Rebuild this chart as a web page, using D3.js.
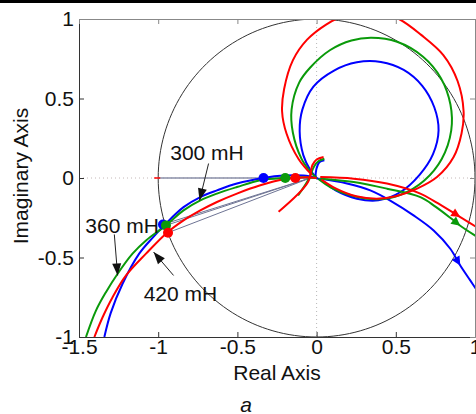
<!DOCTYPE html>
<html>
<head>
<meta charset="utf-8">
<script src="https://cdn.jsdelivr.net/npm/d3@7/dist/d3.min.js"></script>
<style>
    html, body { margin: 0; padding: 0; background: #fff; }
    svg { display: block; font-family: "Liberation Sans", Arial, sans-serif; }
</style>
</head>
<body>
<div id="chart"></div>
<script>
// axis ticks
const xTicks = [-1.5, -1, -0.5, 0, 0.5, 1];
const yTicks = [-1, -0.5, 0, 0.5, 1];
const xTickLabels = ["-1.5", "-1", "-0.5", "0", "0.5", "1"];
const yTickLabels = ["-1", "-0.5", "0", "0.5", "1"];

// series names
const seriesNames = ["300 mH", "360 mH", "420 mH"];

// left branch (from bottom left up to the origin)
const blueLeft = [[-1.34,-1.0],[-1.30,-0.85],[-1.225,-0.665],[-1.12,-0.476],[-1.03,-0.37],[-0.955,-0.29],[-0.84,-0.183],[-0.734,-0.12],[-0.629,-0.078],[-0.503,-0.035],[-0.335,0.0],[-0.208,0.015],[-0.082,0.015],[0,0]];
const greenLeft = [[-1.456,-1.0],[-1.393,-0.834],[-1.33,-0.718],[-1.256,-0.602],[-1.162,-0.476],[-1.077,-0.393],[-0.951,-0.298],[-0.84,-0.204],[-0.734,-0.141],[-0.629,-0.098],[-0.503,-0.057],[-0.355,-0.014],[-0.198,0.0],[-0.084,0.004],[0,0]];
const redLeft = [[-1.403,-1.0],[-1.351,-0.876],[-1.288,-0.75],[-1.203,-0.613],[-1.077,-0.476],[-0.951,-0.35],[-0.84,-0.267],[-0.734,-0.204],[-0.629,-0.151],[-0.503,-0.098],[-0.355,-0.046],[-0.208,-0.008],[-0.134,0.0],[-0.061,0.004],[0,0]];

// loops above the real axis
const blueLoop = [[0,0],[-0.04,0.05],[-0.084,0.144],[-0.107,0.295],[-0.09,0.43],[-0.02,0.575],[0.11,0.676],[0.254,0.728],[0.406,0.73],[0.55,0.68],[0.667,0.58],[0.743,0.445],[0.77,0.3],[0.735,0.15],[0.65,0.02],[0.53,-0.088],[0.39,-0.14],[0.254,-0.13],[0.12,-0.078],[0.04,-0.02],[0,0]];
const greenLoop = [[0,0],[-0.04,0.04],[-0.095,0.12],[-0.15,0.286],[-0.158,0.43],[-0.11,0.6],[-0.04,0.695],[0.086,0.805],[0.22,0.865],[0.345,0.882],[0.508,0.857],[0.672,0.763],[0.785,0.628],[0.845,0.462],[0.85,0.3],[0.79,0.12],[0.68,-0.015],[0.53,-0.105],[0.38,-0.134],[0.22,-0.11],[0.09,-0.06],[0.01,-0.005]];
const redLoop = [[-0.03,0.02],[-0.114,0.12],[-0.19,0.28],[-0.218,0.42],[-0.205,0.56],[-0.15,0.74],[-0.06,0.87],[0.06,0.965],[0.17,1.02],[0.34,1.06],[0.52,1.0],[0.66,0.9],[0.8,0.773],[0.89,0.61],[0.928,0.42],[0.915,0.28],[0.865,0.132],[0.76,0.006],[0.634,-0.067],[0.5,-0.115],[0.38,-0.13],[0.25,-0.115],[0.12,-0.065],[0.03,-0.01]];

// right branch (with direction arrow)
const blueRight = [[0.023,-0.004],[0.192,-0.035],[0.339,-0.078],[0.47,-0.145],[0.612,-0.235],[0.739,-0.33],[0.844,-0.445],[0.907,-0.55],[0.97,-0.644],[1.013,-0.708]];
const greenRight = [[0.023,-0.004],[0.234,-0.025],[0.444,-0.067],[0.655,-0.12],[0.75,-0.18],[0.85,-0.255],[0.907,-0.3],[1.013,-0.37]];
const redRight = [[0.023,0.006],[0.234,-0.004],[0.444,-0.035],[0.655,-0.098],[0.75,-0.15],[0.85,-0.21],[0.907,-0.246],[1.013,-0.31]];

// short pieces close to the origin
const blueHook = [[-0.008,0.0],[0.0,0.061],[0.017,0.099],[0.049,0.112]];
const greenHook = [[-0.117,-0.109],[-0.054,-0.014],[-0.015,0.074],[0.011,0.105],[0.049,0.121]];
const redHook = [[-0.24,-0.212],[-0.054,-0.025],[-0.027,0.08],[0.0,0.116],[0.044,0.132]];

// marked points
const axisDots = [[-0.335,0.0],[-0.198,0.0],[-0.134,0.0]];
const lowerDots = [[-0.97,-0.292],[-0.951,-0.298],[-0.938,-0.344]];
const arrowX = 0.907;

// annotation text anchors and arrows (text x, text y, arrow from, arrow to)
const noteText = [[-0.924,0.112],[-1.46,-0.344],[-1.092,-0.771]];
const noteFrom = [[-0.682,0.091],[-1.277,-0.355],[-0.903,-0.613]];
const noteTo = [[-0.739,-0.141],[-1.256,-0.613],[-1.029,-0.466]];

const colors = ["#0000ff", "#0a9a0a", "#ff0000"];

const W = 476, H = 414;
const margin = { left: 79, right: 1, top: 19, bottom: 77 };
const font = "\"Liberation Sans\", Arial, sans-serif";

const svg = d3.select("#chart").append("svg")
    .attr("width", W)
    .attr("height", H);

// black band at the very top
svg.append("rect")
    .attr("x", 0).attr("y", 0)
    .attr("width", W).attr("height", 3)
    .attr("fill", "#000");

const x = d3.scaleLinear().domain([-1.5, 1]).range([margin.left, W - margin.right]);
const y = d3.scaleLinear().domain([-1, 1]).range([H - margin.bottom, margin.top]);

svg.append("clipPath").attr("id", "plotclip")
    .append("rect")
    .attr("x", x(-1.5)).attr("y", y(1))
    .attr("width", x(1) - x(-1.5)).attr("height", y(-1) - y(1));

// dotted zero grid lines
svg.append("line")
    .attr("x1", x(0)).attr("x2", x(0))
    .attr("y1", y(1)).attr("y2", y(-1))
    .attr("stroke", "#b8b8b8").attr("stroke-dasharray", "1,3");
svg.append("line")
    .attr("x1", x(-1.5)).attr("x2", x(1))
    .attr("y1", y(0)).attr("y2", y(0))
    .attr("stroke", "#c4b8b8").attr("stroke-dasharray", "1,3");

const plot = svg.append("g").attr("clip-path", "url(#plotclip)");

// unit circle
const circlePts = d3.range(0, 361, 2).map(a => [Math.cos(a * Math.PI / 180), Math.sin(a * Math.PI / 180)]);
const line = d3.line().x(d => x(d[0])).y(d => y(d[1]));
plot.append("path")
    .attr("d", line(circlePts))
    .attr("fill", "none")
    .attr("stroke", "#333")
    .attr("stroke-width", 1);

// vectors to the origin
plot.append("line")
    .attr("x1", x(-1)).attr("y1", y(0))
    .attr("x2", x(0)).attr("y2", y(0))
    .attr("stroke", "#8a8fa8").attr("stroke-width", 1.5);
lowerDots.forEach(d => {
    plot.append("line")
        .attr("x1", x(d[0])).attr("y1", y(d[1]))
        .attr("x2", x(-0.04)).attr("y2", y(0.0))
        .attr("stroke", "#6e7494").attr("stroke-width", 1);
});
plot.append("line")
    .attr("x1", x(-1) - 4).attr("x2", x(-1) + 2)
    .attr("y1", y(0)).attr("y2", y(0))
    .attr("stroke", "#ff0000").attr("stroke-width", 1.5);

// curves
const smooth = d3.line().x(d => x(d[0])).y(d => y(d[1])).curve(d3.curveCatmullRom.alpha(0.5));
const parts = [
    [blueLeft, blueLoop, blueRight, blueHook],
    [greenLeft, greenLoop, greenRight, greenHook],
    [redLeft, redLoop, redRight, redHook]
];

parts.forEach((p, i) => {
    p.forEach(pts => {
        plot.append("path")
            .attr("d", smooth(pts))
            .attr("fill", "none")
            .attr("stroke", colors[i])
            .attr("stroke-width", 2)
            .attr("stroke-linejoin", "round");
    });

    // direction arrow on the right branch
    const right = p[2];
    const k = right.findIndex(d => d[0] >= arrowX);
    const a = right[k - 1], b = right[k];
    const ang = Math.atan2(y(b[1]) - y(a[1]), x(b[0]) - x(a[0])) * 180 / Math.PI;
    plot.append("path")
        .attr("d", "M0,0 L-9,-4.5 L-9,4.5 Z")
        .attr("transform", `translate(${x(b[0])},${y(b[1])}) rotate(${ang})`)
        .attr("fill", colors[i]);
});

// marker dots
[axisDots, lowerDots].forEach(set => {
    plot.selectAll(null)
        .data(set)
        .join("circle")
        .attr("cx", d => x(d[0]))
        .attr("cy", d => y(d[1]))
        .attr("r", 5)
        .attr("fill", (d, i) => colors[i]);
});

// axes with inward ticks
const axisStyle = g => {
    g.selectAll("text")
        .attr("font-size", 21)
        .attr("fill", "#111")
        .attr("font-family", font);
    g.selectAll("line").attr("stroke", "#333");
};

svg.append("g")
    .attr("transform", `translate(0,${y(-1)})`)
    .call(d3.axisBottom(x).tickValues(xTicks).tickFormat((d, i) => xTickLabels[i]).tickSize(-5).tickSizeOuter(0).tickPadding(2))
    .call(axisStyle)
    .call(g => g.select(".domain").attr("stroke", "#333"));

svg.append("g")
    .attr("transform", `translate(${x(-1.5)},0)`)
    .call(d3.axisLeft(y).tickValues(yTicks).tickFormat((d, i) => yTickLabels[i]).tickSize(-5).tickSizeOuter(0).tickPadding(5))
    .call(axisStyle)
    .call(g => g.select(".domain").attr("stroke", "#333"));

svg.append("g")
    .attr("transform", `translate(0,${y(1)})`)
    .call(d3.axisTop(x).tickValues(xTicks).tickFormat("").tickSize(-5).tickSizeOuter(0))
    .call(g => g.selectAll("line,path").attr("stroke", "#888"));

svg.append("g")
    .attr("transform", `translate(${x(1)},0)`)
    .call(d3.axisRight(y).tickValues(yTicks).tickFormat("").tickSize(-5).tickSizeOuter(0))
    .call(g => g.selectAll("line,path").attr("stroke", "#888"));

// annotations
const notes = svg.append("g");
noteText.forEach((t, i) => {
    notes.append("text")
        .attr("x", x(t[0]))
        .attr("y", y(t[1]))
        .attr("font-size", 21)
        .attr("fill", "#111")
        .text(seriesNames[i]);

    const f = noteFrom[i], to = noteTo[i];
    const x1 = x(f[0]), y1 = y(f[1]), x2 = x(to[0]), y2 = y(to[1]);
    const ang = Math.atan2(y2 - y1, x2 - x1) * 180 / Math.PI;
    notes.append("line")
        .attr("x1", x1).attr("y1", y1)
        .attr("x2", x2).attr("y2", y2)
        .attr("stroke", "#222").attr("stroke-width", 1);
    notes.append("path")
        .attr("d", "M0,0 L-12,-4.5 L-12,4.5 Z")
        .attr("transform", `translate(${x2},${y2}) rotate(${ang})`)
        .attr("fill", "#111");
});

// axis titles
svg.append("text")
    .attr("x", (x(-1.5) + x(1)) / 2)
    .attr("y", 380)
    .attr("text-anchor", "middle")
    .attr("font-size", 21)
    .attr("fill", "#111")
    .text("Real Axis");

svg.append("text")
    .attr("transform", `translate(28,${y(0) - 2}) rotate(-90)`)
    .attr("text-anchor", "middle")
    .attr("font-size", 21)
    .attr("fill", "#111")
    .text("Imaginary Axis");

svg.append("text")
    .attr("x", 246)
    .attr("y", 412)
    .attr("text-anchor", "middle")
    .attr("font-size", 21)
    .attr("font-style", "italic")
    .attr("fill", "#111")
    .text("a");
</script>
</body>
</html>
